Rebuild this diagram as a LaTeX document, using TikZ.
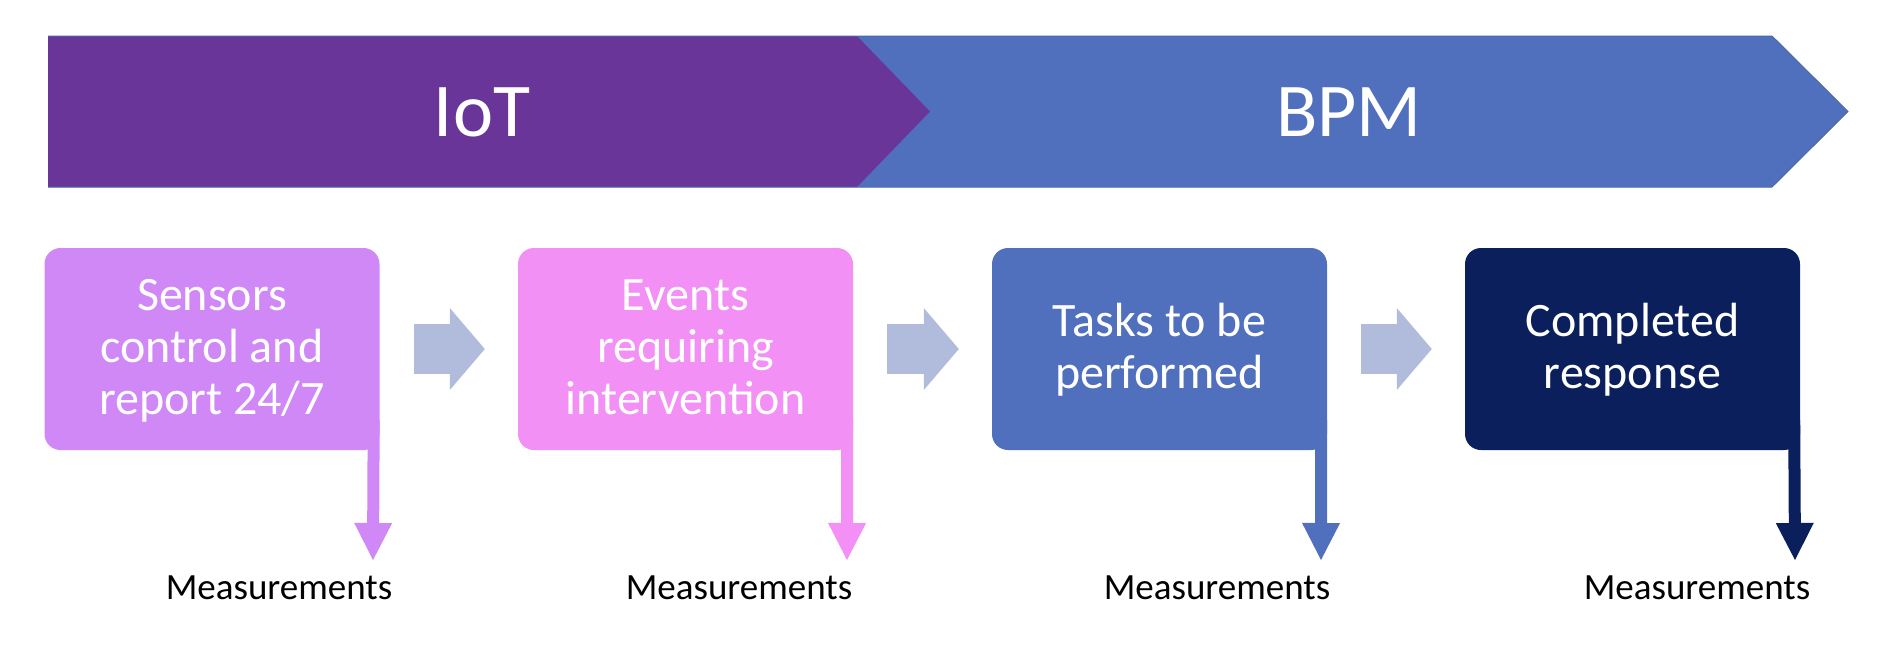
\documentclass[tikz,border=0pt]{standalone}
\usepackage{fontspec}
\setmainfont{Carlito}
\usetikzlibrary{arrows.meta,calc}
\definecolor{iotpurple}{HTML}{6A3599}
\definecolor{bpmblue}{HTML}{5070BE}
\definecolor{bpmline}{HTML}{4A66AE}
\definecolor{boxone}{HTML}{D088F6}
\definecolor{boxtwo}{HTML}{F290F6}
\definecolor{boxthree}{HTML}{5070BE}
\definecolor{boxfour}{HTML}{0B1F5C}
\definecolor{flowc}{HTML}{B1BCDD}
\begin{document}
\begin{tikzpicture}[x=1pt,y=-1pt,
  stepbox/.style={rounded corners=16pt, minimum width=335pt, minimum height=202pt, inner sep=0pt, draw=none},
  boxtext/.style={text=white, font=\fontsize{48}{52}\selectfont, inner sep=0pt},
  bannertext/.style={text=white, font=\fontsize{76}{80}\selectfont, inner sep=0pt},
  meas/.style={text=black, font=\fontsize{37}{40}\selectfont, inner sep=0pt},
  measarrow/.style={line width=12pt, -{Triangle[width=38pt,length=37pt,line width=0pt]}},
  flow/.style={line width=50pt, color=flowc, -{Triangle[width=82pt,length=35pt,line width=0pt]}}]
\useasboundingbox (0,0) rectangle (1888,646);
% banner
\fill[bpmblue] (48,36) -- (1772,36) -- (1848,111.5) -- (1772,187) -- (48,187) -- cycle;
\fill[iotpurple] (48,36) -- (857,36) -- (930,111.5) -- (857,187) -- (48,187) -- cycle;
\draw[bpmline, line width=1pt] (48,36) -- (1772,36) -- (1848,111.5) -- (1772,187) -- (48,187);
\node[bannertext] (iot) at (482,112) {IoT};
\node[bannertext] (bpm) at (1349,112) {BPM};
% boxes
\node[stepbox, fill=boxone] (b1) at (212,349) {};
\node[stepbox, fill=boxtwo] (b2) at (685.5,349) {};
\node[stepbox, fill=boxthree] (b3) at (1159.5,349) {};
\node[stepbox, fill=boxfour] (b4) at (1632.5,349) {};
\node[boxtext] (t1) at ([yshift=-3pt]b1.center) {\begin{tabular}{@{}c@{}}Sensors\\control and\\report 24/7\end{tabular}};
\node[boxtext] (t2) at ([yshift=-3pt]b2.center) {\begin{tabular}{@{}c@{}}Events\\requiring\\intervention\end{tabular}};
\node[boxtext] (t3) at ([yshift=-3pt]b3.center) {\begin{tabular}{@{}c@{}}Tasks to be\\performed\end{tabular}};
\node[boxtext] (t4) at ([yshift=-3pt]b4.center) {\begin{tabular}{@{}c@{}}Completed\\response\end{tabular}};
% flow arrows
\draw[flow] ([xshift=34pt]b1.east) -- ([xshift=-33pt]b2.west);
\draw[flow] ([xshift=34pt]b2.east) -- ([xshift=-33pt]b3.west);
\draw[flow] ([xshift=34pt]b3.east) -- ([xshift=-33pt]b4.west);
% measurement labels
\node[meas] (m1) at (279,588) {Measurements};
\node[meas] (m2) at (739,588) {Measurements};
\node[meas] (m3) at (1217,588) {Measurements};
\node[meas] (m4) at (1697,588) {Measurements};
\coordinate (p1) at (373,560);
\coordinate (p2) at (847,560);
\coordinate (p3) at (1321,560);
\coordinate (p4) at (1795,560);
\draw[measarrow, color=boxone] ([xshift=-6pt,yshift=30pt]b1.south east) -- (p1);
\draw[measarrow, color=boxtwo] ([xshift=-6pt,yshift=30pt]b2.south east) -- (p2);
\draw[measarrow, color=boxthree] ([xshift=-6pt,yshift=30pt]b3.south east) -- (p3);
\draw[measarrow, color=boxfour] ([xshift=-6pt,yshift=30pt]b4.south east) -- (p4);
\end{tikzpicture}
\end{document}
